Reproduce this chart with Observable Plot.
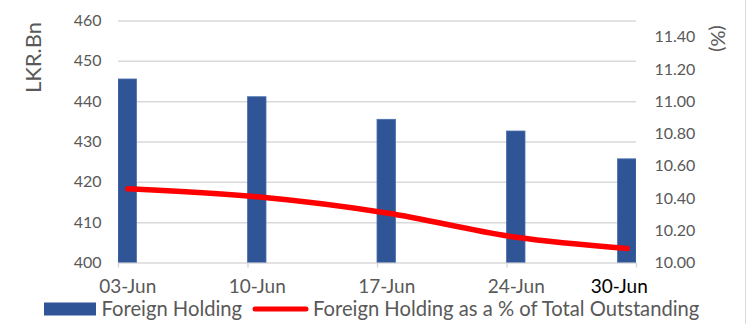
<!DOCTYPE html>
<html>
<head>
<meta charset="utf-8">
<script src="https://cdn.jsdelivr.net/npm/d3@7"></script>
<script src="https://cdn.jsdelivr.net/npm/@observablehq/plot@0.6"></script>
<style>
  html, body { margin: 0; padding: 0; background: #fff; }
  body { width: 751px; height: 324px; position: relative; overflow: hidden; font-family: Lato, sans-serif; }
  #chart { position: absolute; left: 0; top: 0; }
  .title { position: absolute; left: 226px; top: -26px; font: bold 24px/1 Lato, sans-serif; color: #000; white-space: nowrap; }
  .frame { position: absolute; left: 745px; top: 0; width: 1px; height: 324px; background: #d9d9d9; }
  #legend { position: absolute; left: 0; top: 0; }
</style>
</head>
<body>
<div class="title">Foreign Holding</div>
<div id="chart"></div>
<svg id="legend" width="751" height="324"></svg>
<div class="frame"></div>
<script>
// Weekly foreign holding of government securities
const weeks = ["03-Jun", "10-Jun", "17-Jun", "24-Jun", "30-Jun"];
const holdingBn = [445.5, 441.1, 435.5, 432.6, 425.7];      // LKR Bn
const sharePct = [10.46, 10.41, 10.31, 10.16, 10.09];       // % of total outstanding
const leftTicks = [400, 410, 420, 430, 440, 450, 460];
const rightTicks = [10.0, 10.2, 10.4, 10.6, 10.8, 11.0, 11.2, 11.4];
const seriesNames = ["Foreign Holding", "Foreign Holding as a % of Total Outstanding"];

const parse = d3.utcParse("%d-%b-%Y");
const rows = weeks.map((w, i) => ({
  label: w,
  date: parse(w + "-2023"),
  holding: holdingBn[i],
  pct: sharePct[i]
}));
const mid = r => d3.utcHour.offset(r.date, 12);
const start = rows[0].date;
const end = d3.utcDay.offset(start, 28);
const tickDates = d3.range(5).map(i => d3.utcDay.offset(start, 7 * i));

// secondary axis (10.0–11.5 %) mapped onto the primary one (400–460)
const toLeft = p => 400 + (p - 10) * 40;
const fromLeft = v => (v - 400) / 40 + 10;

const grey = "#595959";
const blue = "#2F5597";
const red = "#FF0000";

const chart = Plot.plot({
  width: 751,
  height: 300,
  marginLeft: 118,
  marginRight: 115,
  marginTop: 20.5,
  marginBottom: 37.5,
  style: { fontFamily: "Lato, sans-serif", background: "transparent", overflow: "visible" },
  x: { type: "utc", domain: [start, end] },
  y: { domain: [400, 460] },
  marks: [
    Plot.gridY(leftTicks, { stroke: "#d9d9d9", strokeOpacity: 1, strokeWidth: 1.5 }),
    Plot.axisX(tickDates, { tickSize: 5, text: null, stroke: "#d9d9d9", strokeWidth: 1.5, strokeOpacity: 1, label: null }),
    Plot.rectY(rows, {
      x1: "date",
      x2: r => d3.utcDay.offset(r.date, 1),
      y: "holding",
      fill: blue,
      stroke: "#4b6fae",
      strokeWidth: 0.8,
      clip: true
    }),
    Plot.line(rows, {
      x: mid,
      y: r => toLeft(r.pct),
      stroke: red,
      strokeWidth: 5.5,
      strokeLinecap: "round",
      curve: "monotone-x"
    }),
    Plot.axisY(leftTicks, {
      anchor: "left", tickSize: 0, tickPadding: 17, fontSize: 16, fill: grey, label: null
    }),
    Plot.axisY(rightTicks.map(toLeft), {
      anchor: "right", tickSize: 0, tickPadding: 18, fontSize: 16, fill: grey, label: null,
      tickFormat: v => fromLeft(v).toFixed(2)
    }),
    Plot.axisX(rows.slice(0, 4).map(mid), {
      tickSize: 0, tickPadding: 16.5, fontSize: 19, fill: grey, label: null,
      tickFormat: d3.utcFormat("%d-%b")
    }),
    Plot.axisX(rows.slice(4).map(mid), {
      tickSize: 0, tickPadding: 16.5, fontSize: 19, fill: "#000", label: null, dx: -8,
      tickFormat: d3.utcFormat("%d-%b")
    }),
    Plot.text(["LKR.Bn"], {
      frameAnchor: "top-left", text: d => d, rotate: -90, dx: -93, dy: 36.5,
      fontSize: 22, fill: grey, textAnchor: "middle"
    }),
    Plot.text(["(%)"], {
      frameAnchor: "top-right", text: d => d, rotate: 90, dx: 89, dy: 17.5,
      fontSize: 20, fill: grey, textAnchor: "middle"
    })
  ]
});
document.getElementById("chart").appendChild(chart);

// legend
const lg = d3.select("#legend");
lg.append("rect").attr("x", 44).attr("y", 302.5).attr("width", 52).attr("height", 13).attr("fill", blue);
lg.append("text").attr("x", 101.5).attr("y", 316).attr("fill", grey)
  .style("font", "20.2px Lato, sans-serif").text(seriesNames[0]);
lg.append("line").attr("x1", 255).attr("x2", 306).attr("y1", 309).attr("y2", 309)
  .attr("stroke", red).attr("stroke-width", 5).attr("stroke-linecap", "round");
lg.append("text").attr("x", 313).attr("y", 316).attr("fill", grey)
  .style("font", "20.2px Lato, sans-serif").text(seriesNames[1]);
</script>
</body>
</html>
